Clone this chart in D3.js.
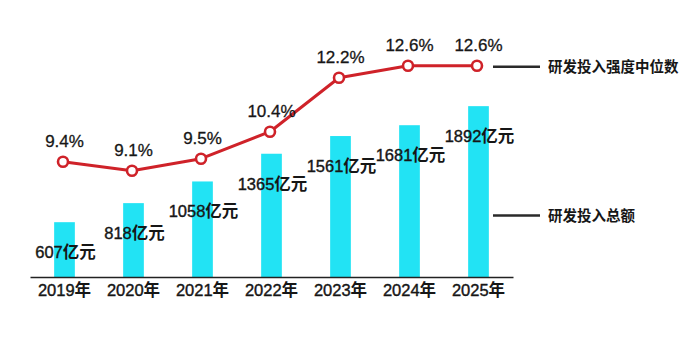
<!DOCTYPE html>
<html>
<head>
<meta charset="utf-8">
<script src="https://cdn.jsdelivr.net/npm/d3@7"></script>
<style>
  body { margin: 0; background: #fff; }
  svg { display: block; }
  text { font-family: "Liberation Sans", Arial, "Noto Sans CJK SC", sans-serif; }
</style>
</head>
<body>
<svg id="chart" width="700" height="337"></svg>
<script>
// data
const years = ["2019", "2020", "2021", "2022", "2023", "2024", "2025"];
const totals = [607, 818, 1058, 1365, 1561, 1681, 1892];          // 亿元
const intensity = [9.4, 9.1, 9.5, 10.4, 12.2, 12.6, 12.6];       // %
const legendLabels = ["研发投入强度中位数", "研发投入总额"];

const svg = d3.select("#chart");
const baseY = 277;
const ink = "#161616";

const x = d3.scaleBand()
  .domain(years)
  .range([30, 513])
  .paddingInner(0.70)
  .paddingOuter(0.35);

const yBar = d3.scaleLinear()
  .domain([0, 2000])
  .range([baseY, baseY - 180.6]);

const yLine = d3.scaleLinear()
  .domain([8, 13])
  .range([203.7, 53.7]);

const cx = d => x(d) + x.bandwidth() / 2;

// number + heavier CJK suffix
function label(sel, num, suffix) {
  sel.append("tspan").text(num);
  sel.append("tspan").attr("font-weight", "bold").attr("stroke-width", 0).text(suffix);
}

// bars
svg.append("g")
  .selectAll("rect")
  .data(totals)
  .join("rect")
  .attr("x", (d, i) => x(years[i]))
  .attr("y", d => yBar(d))
  .attr("width", x.bandwidth())
  .attr("height", d => baseY - yBar(d))
  .attr("fill", "#22e3f4");

// bar value labels
svg.append("g")
  .selectAll("text")
  .data(totals)
  .join("text")
  .attr("x", (d, i) => cx(years[i]) + 1)
  .attr("y", d => yBar(d) + 36)
  .attr("text-anchor", "middle")
  .attr("font-size", 16.5)
  .attr("fill", ink)
  .attr("stroke", ink)
  .attr("stroke-width", 0.4)
  .each(function(d) { label(d3.select(this), d, "亿元"); });

// x axis
const xAxis = svg.append("g")
  .attr("transform", "translate(0," + baseY + ")")
  .call(d3.axisBottom(x).tickSize(0).tickPadding(7).tickFormat(() => ""));
xAxis.select(".domain").attr("stroke", "#222").attr("stroke-width", 1.5);
xAxis.selectAll(".tick text")
  .attr("dy", "0.71em")
  .attr("font-size", 16.5)
  .attr("fill", ink)
  .attr("stroke", ink)
  .attr("stroke-width", 0.4)
  .attr("font-family", "\"Liberation Sans\", Arial, \"Noto Sans CJK SC\", sans-serif")
  .each(function(d) { label(d3.select(this), d, "年"); });

// intensity line
const line = d3.line()
  .x((d, i) => cx(years[i]) - 1.5)
  .y(d => yLine(d));

svg.append("path")
  .datum(intensity)
  .attr("fill", "none")
  .attr("stroke", "#cf2229")
  .attr("stroke-width", 3)
  .attr("stroke-linejoin", "round")
  .attr("d", line);

svg.append("g")
  .selectAll("circle")
  .data(intensity)
  .join("circle")
  .attr("cx", (d, i) => cx(years[i]) - 1.5)
  .attr("cy", d => yLine(d))
  .attr("r", 5)
  .attr("fill", "#fff")
  .attr("stroke", "#cf2229")
  .attr("stroke-width", 2.6);

svg.append("g")
  .selectAll("text")
  .data(intensity)
  .join("text")
  .attr("x", (d, i) => cx(years[i]))
  .attr("y", d => yLine(d) - 15)
  .attr("text-anchor", "middle")
  .attr("font-size", 17)
  .attr("fill", ink)
  .attr("stroke", ink)
  .attr("stroke-width", 0.3)
  .text(d => d.toFixed(1) + "%");

// legend
const legendY = [yLine(intensity[intensity.length - 1]) + 1, 215.5];
const legend = svg.append("g")
  .selectAll("g")
  .data(legendLabels)
  .join("g")
  .attr("transform", (d, i) => "translate(493," + legendY[i] + ")");

legend.append("line")
  .attr("x1", 0).attr("x2", 47)
  .attr("stroke", "#2a2a2a")
  .attr("stroke-width", 2.6);

legend.append("text")
  .attr("x", 55)
  .attr("y", 5)
  .attr("font-size", 14.5)
  .attr("font-weight", "bold")
  .attr("fill", ink)
  .text(d => d);
</script>
</body>
</html>
